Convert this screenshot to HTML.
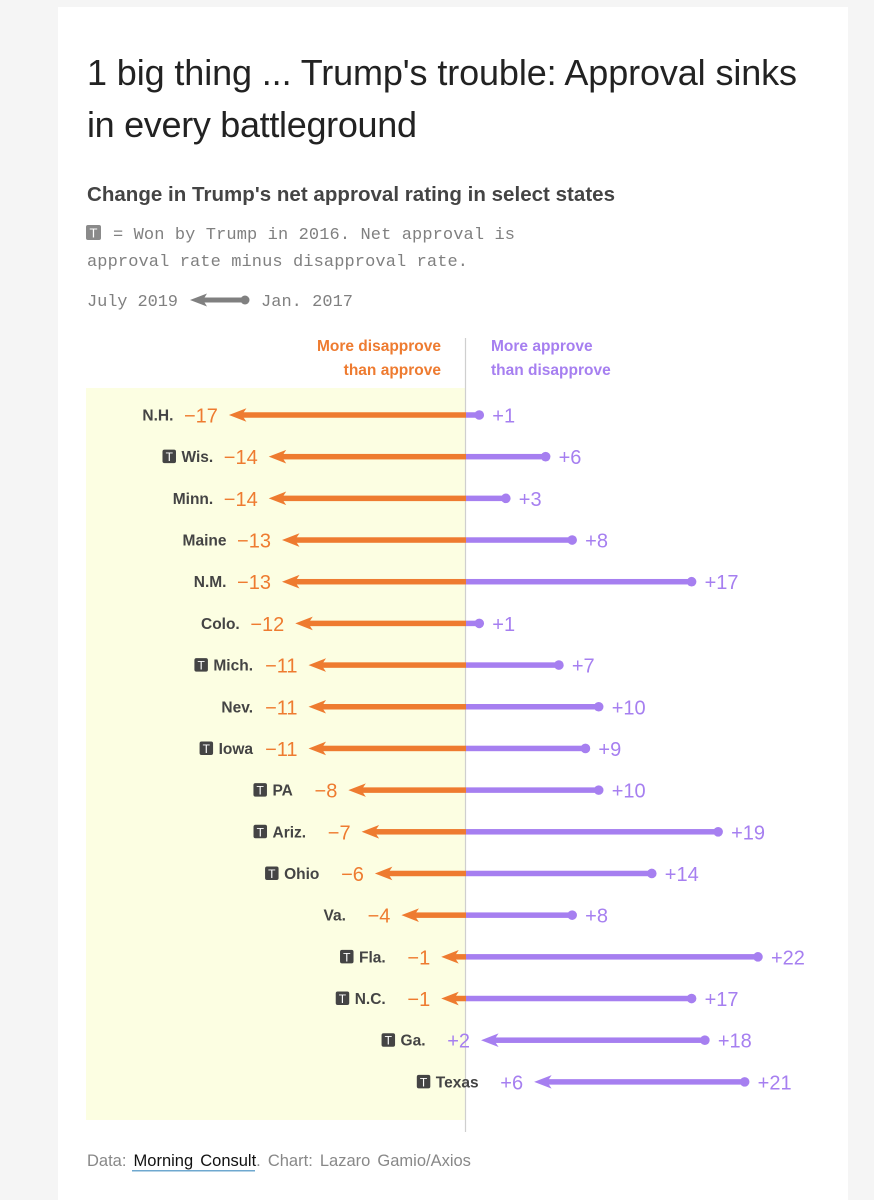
<!DOCTYPE html>
<html lang="en">
<head>
<meta charset="utf-8">
<title>Trump's trouble: Approval sinks in every battleground</title>
<style>
html,body{margin:0;padding:0;background:#f5f5f5;width:874px;height:1200px;overflow:hidden}
svg{display:block}
text{font-family:"Liberation Sans",sans-serif}
.mono{font-family:"Liberation Mono",monospace;font-size:17px;fill:#808080}
.hd{font-size:15.5px;font-weight:700}
.name{font-size:15.5px;font-weight:700;fill:#444}
.val{font-size:20px}
</style>
</head>
<body>
<svg id="chart" width="874" height="1200" viewBox="0 0 874 1200" xmlns="http://www.w3.org/2000/svg">
  <rect x="58" y="7" width="790" height="1193" fill="#ffffff"/>
  <text x="87" y="85" font-size="36" fill="#222" textLength="710" lengthAdjust="spacing">1 big thing ... Trump's trouble: Approval sinks</text>
  <text x="87" y="137" font-size="36" fill="#222" textLength="330" lengthAdjust="spacing">in every battleground</text>
  <text x="87" y="201" font-size="20.5" font-weight="700" fill="#444" textLength="528" lengthAdjust="spacing">Change in Trump's net approval rating in select states</text>

  <rect x="86" y="225" width="15" height="15" rx="2" fill="#8a8a8a"/>
  <text x="93.5" y="237.500" font-size="13" fill="#fff" text-anchor="middle">T</text>
  <text class="mono" x="113" y="239" textLength="402">= Won by Trump in 2016. Net approval is</text>
  <text class="mono" x="87" y="266" textLength="381">approval rate minus disapproval rate.</text>

  <text class="mono" x="87" y="306" textLength="91">July 2019</text>
  <g fill="#808080">
    <rect x="200" y="297.500" width="45" height="5"/>
    <path d="M190 300 L207 293.5 L203 300 L207 306.500 Z"/>
    <circle cx="245" cy="300" r="4.500"/>
  </g>
  <text class="mono" x="261" y="306" textLength="92">Jan. 2017</text>

  <rect x="86" y="388" width="380" height="732" fill="#fcfee2"/>
  <line x1="465.500" x2="465.500" y1="338" y2="1132" stroke="#cfcfcf" stroke-width="1.200"/>

  <text class="hd" x="441" y="351" text-anchor="end" fill="#ee7b30">More disapprove</text>
  <text class="hd" x="441" y="375" text-anchor="end" fill="#ee7b30">than approve</text>
  <text class="hd" x="491" y="351" fill="#a67ff0">More approve</text>
  <text class="hd" x="491" y="375" fill="#a67ff0">than disapprove</text>

  <g id="rows"></g>

  <text x="87" y="1166" font-size="16.5" fill="#888" word-spacing="2.5">Data: <tspan fill="#111">Morning Consult</tspan>. Chart: Lazaro Gamio/Axios</text>
  <rect x="132" y="1170" width="123" height="1.500" fill="#6fa8cf"/>
</svg>
<script>
const states = ["N.H.","Wis.","Minn.","Maine","N.M.","Colo.","Mich.","Nev.","Iowa","PA","Ariz.","Ohio","Va.","Fla.","N.C.","Ga.","Texas"];
const wonByTrump = [0,1,0,0,0,0,1,0,1,1,1,1,0,1,1,1,1];
const jan2017 = [1,6,3,8,17,1,7,10,9,10,19,14,8,22,17,18,21];
const july2019 = [-17,-14,-14,-13,-13,-12,-11,-11,-11,-8,-7,-6,-4,-1,-1,2,6];

const ORANGE = "#ee7b30", PURPLE = "#a67ff0";
const NS = "http://www.w3.org/2000/svg";
const xScale = v => 466 + v * 13.27;
const yScale = i => 415 + i * 41.68;
const fmt = v => (v < 0 ? "\u2212" + Math.abs(v) : "+" + v);
const rows = document.getElementById("rows");

function make(tag, attrs, parent, txt) {
  const el = document.createElementNS(NS, tag);
  for (const k in attrs) el.setAttribute(k, attrs[k]);
  if (txt !== undefined) el.textContent = txt;
  parent.appendChild(el);
  return el;
}

states.forEach((state, i) => {
  const y = yScale(i);
  const start = xScale(jan2017[i]);
  const end = xScale(july2019[i]);
  const tip = end - 11.5;
  const endColor = july2019[i] < 0 ? ORANGE : PURPLE;
  const lineH = 5.5;

  const g = make("g", {}, rows);
  
  

  const purple = make("rect", {x: Math.max(xScale(0), tip + 8), y: y - lineH / 2, width: start - Math.max(xScale(0), tip + 8), height: lineH, fill: PURPLE}, g);
  
  

  const dot = make("circle", {cx: start, cy: y, r: 4.8, fill: PURPLE}, g);
  
  

  if (july2019[i] < 0) {
    const orange = make("rect", {x: tip + 8, y: y - lineH / 2, width: xScale(0) - tip - 8, height: lineH, fill: ORANGE}, g);
    
    
  }

  const head = make("path", {d: `M${tip} ${y} L${tip + 17.5} ${y - 6.8} L${tip + 13} ${y} L${tip + 17.5} ${y + 6.8} Z`, fill: endColor}, g);
  
  

  const endLabel = make("text", {class: "val", x: tip - 11, y: y + 7.5, "text-anchor": "end", fill: endColor}, g, fmt(july2019[i]));
  
  

  const startLabel = make("text", {class: "val", x: start + 13, y: y + 7.5, fill: PURPLE}, g, fmt(jan2017[i]));
  
  

  const nameRight = tip - 55.5;
  const name = make("text", {class: "name", x: nameRight, y: y + 5.5, "text-anchor": "end"}, g, state);
  
  

  if (wonByTrump[i]) {
    const w = name.getComputedTextLength();
    const bx = nameRight - w - 19;
    const badge = make("rect", {x: bx, y: y - 7, width: 13.5, height: 13.5, rx: 2, fill: "#444"}, g);
    
    
    const letter = make("text", {x: bx + 6.75, y: y + 4.5, "font-size": 12, fill: "#fff", "text-anchor": "middle"}, g, "T");
    
    
  }
});
</script>
</body>
</html>
